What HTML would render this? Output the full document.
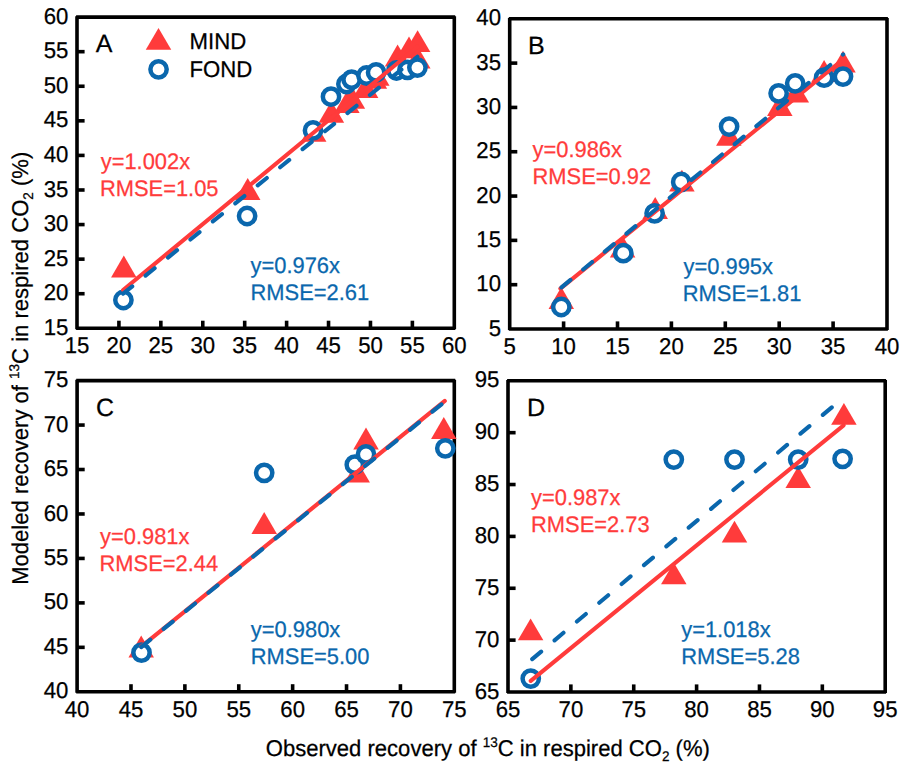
<!DOCTYPE html><html><head><meta charset="utf-8"><style>html,body{margin:0;padding:0;background:#fff;}svg{display:block;}</style></head><body>
<svg width="901" height="766" viewBox="0 0 901 766">
<rect width="901" height="766" fill="#fff"/>
<g font-family='"Liberation Sans", sans-serif' font-size="22.8" text-rendering="geometricPrecision" stroke-width="0.25">
<path d="M76.10,17.10H455.20M454.30,16.20V329.20M455.20,328.30H76.10M77.00,329.20V16.20" fill="none" stroke="#000" stroke-width="3.6"/>
<text transform="translate(77.00,353.40) scale(0.973,1)" text-anchor="middle" stroke="#000">15</text>
<line x1="118.92" y1="328.3" x2="118.92" y2="320.70" stroke="#000" stroke-width="3.6"/>
<text transform="translate(118.92,353.40) scale(0.973,1)" text-anchor="middle" stroke="#000">20</text>
<line x1="160.84" y1="328.3" x2="160.84" y2="320.70" stroke="#000" stroke-width="3.6"/>
<text transform="translate(160.84,353.40) scale(0.973,1)" text-anchor="middle" stroke="#000">25</text>
<line x1="202.77" y1="328.3" x2="202.77" y2="320.70" stroke="#000" stroke-width="3.6"/>
<text transform="translate(202.77,353.40) scale(0.973,1)" text-anchor="middle" stroke="#000">30</text>
<line x1="244.69" y1="328.3" x2="244.69" y2="320.70" stroke="#000" stroke-width="3.6"/>
<text transform="translate(244.69,353.40) scale(0.973,1)" text-anchor="middle" stroke="#000">35</text>
<line x1="286.61" y1="328.3" x2="286.61" y2="320.70" stroke="#000" stroke-width="3.6"/>
<text transform="translate(286.61,353.40) scale(0.973,1)" text-anchor="middle" stroke="#000">40</text>
<line x1="328.53" y1="328.3" x2="328.53" y2="320.70" stroke="#000" stroke-width="3.6"/>
<text transform="translate(328.53,353.40) scale(0.973,1)" text-anchor="middle" stroke="#000">45</text>
<line x1="370.46" y1="328.3" x2="370.46" y2="320.70" stroke="#000" stroke-width="3.6"/>
<text transform="translate(370.46,353.40) scale(0.973,1)" text-anchor="middle" stroke="#000">50</text>
<line x1="412.38" y1="328.3" x2="412.38" y2="320.70" stroke="#000" stroke-width="3.6"/>
<text transform="translate(412.38,353.40) scale(0.973,1)" text-anchor="middle" stroke="#000">55</text>
<text transform="translate(454.30,353.40) scale(0.973,1)" text-anchor="middle" stroke="#000">60</text>
<text transform="translate(68.30,334.90) scale(0.973,1)" text-anchor="end" stroke="#000">15</text>
<line x1="77.0" y1="293.72" x2="84.60" y2="293.72" stroke="#000" stroke-width="3.6"/>
<text transform="translate(68.30,300.32) scale(0.973,1)" text-anchor="end" stroke="#000">20</text>
<line x1="77.0" y1="259.14" x2="84.60" y2="259.14" stroke="#000" stroke-width="3.6"/>
<text transform="translate(68.30,265.74) scale(0.973,1)" text-anchor="end" stroke="#000">25</text>
<line x1="77.0" y1="224.57" x2="84.60" y2="224.57" stroke="#000" stroke-width="3.6"/>
<text transform="translate(68.30,231.17) scale(0.973,1)" text-anchor="end" stroke="#000">30</text>
<line x1="77.0" y1="189.99" x2="84.60" y2="189.99" stroke="#000" stroke-width="3.6"/>
<text transform="translate(68.30,196.59) scale(0.973,1)" text-anchor="end" stroke="#000">35</text>
<line x1="77.0" y1="155.41" x2="84.60" y2="155.41" stroke="#000" stroke-width="3.6"/>
<text transform="translate(68.30,162.01) scale(0.973,1)" text-anchor="end" stroke="#000">40</text>
<line x1="77.0" y1="120.83" x2="84.60" y2="120.83" stroke="#000" stroke-width="3.6"/>
<text transform="translate(68.30,127.43) scale(0.973,1)" text-anchor="end" stroke="#000">45</text>
<line x1="77.0" y1="86.26" x2="84.60" y2="86.26" stroke="#000" stroke-width="3.6"/>
<text transform="translate(68.30,92.86) scale(0.973,1)" text-anchor="end" stroke="#000">50</text>
<line x1="77.0" y1="51.68" x2="84.60" y2="51.68" stroke="#000" stroke-width="3.6"/>
<text transform="translate(68.30,58.28) scale(0.973,1)" text-anchor="end" stroke="#000">55</text>
<text transform="translate(68.30,23.70) scale(0.973,1)" text-anchor="end" stroke="#000">60</text>
<text x="95.7" y="52.4" font-size="25" stroke="#000">A</text>
<polygon points="123.80,255.60 136.55,277.40 111.05,277.40" fill="#FF3B3B"/>
<polygon points="247.70,178.10 260.45,199.90 234.95,199.90" fill="#FF3B3B"/>
<polygon points="313.70,120.00 326.45,141.80 300.95,141.80" fill="#FF3B3B"/>
<polygon points="331.40,101.00 344.15,122.80 318.65,122.80" fill="#FF3B3B"/>
<polygon points="346.90,91.30 359.65,113.10 334.15,113.10" fill="#FF3B3B"/>
<polygon points="352.40,87.00 365.15,108.80 339.65,108.80" fill="#FF3B3B"/>
<polygon points="365.60,76.10 378.35,97.90 352.85,97.90" fill="#FF3B3B"/>
<polygon points="374.40,66.90 387.15,88.70 361.65,88.70" fill="#FF3B3B"/>
<polygon points="376.80,63.90 389.55,85.70 364.05,85.70" fill="#FF3B3B"/>
<polygon points="397.60,44.60 410.35,66.40 384.85,66.40" fill="#FF3B3B"/>
<polygon points="409.00,36.40 421.75,58.20 396.25,58.20" fill="#FF3B3B"/>
<polygon points="417.60,30.20 430.35,52.00 404.85,52.00" fill="#FF3B3B"/>
<polygon points="417.80,46.70 430.55,68.50 405.05,68.50" fill="#FF3B3B"/>
<circle cx="123.40" cy="300.00" r="8.15" fill="#fff" stroke="#0A67AD" stroke-width="4.5"/>
<circle cx="247.10" cy="216.00" r="8.15" fill="#fff" stroke="#0A67AD" stroke-width="4.5"/>
<circle cx="313.00" cy="130.40" r="8.15" fill="#fff" stroke="#0A67AD" stroke-width="4.5"/>
<circle cx="331.00" cy="96.70" r="8.15" fill="#fff" stroke="#0A67AD" stroke-width="4.5"/>
<circle cx="346.40" cy="84.00" r="8.15" fill="#fff" stroke="#0A67AD" stroke-width="4.5"/>
<circle cx="351.60" cy="79.60" r="8.15" fill="#fff" stroke="#0A67AD" stroke-width="4.5"/>
<circle cx="366.50" cy="75.50" r="8.15" fill="#fff" stroke="#0A67AD" stroke-width="4.5"/>
<circle cx="376.10" cy="72.40" r="8.15" fill="#fff" stroke="#0A67AD" stroke-width="4.5"/>
<circle cx="396.50" cy="70.50" r="8.15" fill="#fff" stroke="#0A67AD" stroke-width="4.5"/>
<circle cx="407.50" cy="69.80" r="8.15" fill="#fff" stroke="#0A67AD" stroke-width="4.5"/>
<circle cx="417.40" cy="67.60" r="8.15" fill="#fff" stroke="#0A67AD" stroke-width="4.5"/>
<line x1="123.11" y1="289.98" x2="417.41" y2="46.76" stroke="#FF3B3B" stroke-width="4.1" stroke-linecap="round"/>
<line x1="123.11" y1="293.67" x2="417.41" y2="56.76" stroke="#0A67AD" stroke-width="4.1" stroke-linecap="round" stroke-dasharray="11.7 17.1" stroke-dashoffset="0"/>
<text transform="translate(100.70,169.10) scale(0.973,1)" fill="#FF3B3B" stroke="#FF3B3B" font-size="22.5">y=1.002x</text>
<text transform="translate(99.90,196.30) scale(0.973,1)" fill="#FF3B3B" stroke="#FF3B3B" font-size="22.5">RMSE=1.05</text>
<text transform="translate(250.50,273.40) scale(0.973,1)" fill="#0A67AD" stroke="#0A67AD" font-size="22.5">y=0.976x</text>
<text transform="translate(250.50,300.40) scale(0.973,1)" fill="#0A67AD" stroke="#0A67AD" font-size="22.5">RMSE=2.61</text>
<path d="M508.80,18.80H887.90M887.00,17.90V329.90M887.90,329.00H508.80M509.70,329.90V17.90" fill="none" stroke="#000" stroke-width="3.6"/>
<text transform="translate(509.70,354.10) scale(0.973,1)" text-anchor="middle" stroke="#000">5</text>
<line x1="563.60" y1="329.0" x2="563.60" y2="321.40" stroke="#000" stroke-width="3.6"/>
<text transform="translate(563.60,354.10) scale(0.973,1)" text-anchor="middle" stroke="#000">10</text>
<line x1="617.50" y1="329.0" x2="617.50" y2="321.40" stroke="#000" stroke-width="3.6"/>
<text transform="translate(617.50,354.10) scale(0.973,1)" text-anchor="middle" stroke="#000">15</text>
<line x1="671.40" y1="329.0" x2="671.40" y2="321.40" stroke="#000" stroke-width="3.6"/>
<text transform="translate(671.40,354.10) scale(0.973,1)" text-anchor="middle" stroke="#000">20</text>
<line x1="725.30" y1="329.0" x2="725.30" y2="321.40" stroke="#000" stroke-width="3.6"/>
<text transform="translate(725.30,354.10) scale(0.973,1)" text-anchor="middle" stroke="#000">25</text>
<line x1="779.20" y1="329.0" x2="779.20" y2="321.40" stroke="#000" stroke-width="3.6"/>
<text transform="translate(779.20,354.10) scale(0.973,1)" text-anchor="middle" stroke="#000">30</text>
<line x1="833.10" y1="329.0" x2="833.10" y2="321.40" stroke="#000" stroke-width="3.6"/>
<text transform="translate(833.10,354.10) scale(0.973,1)" text-anchor="middle" stroke="#000">35</text>
<text transform="translate(887.00,354.10) scale(0.973,1)" text-anchor="middle" stroke="#000">40</text>
<text transform="translate(501.00,335.60) scale(0.973,1)" text-anchor="end" stroke="#000">5</text>
<line x1="509.7" y1="284.69" x2="517.30" y2="284.69" stroke="#000" stroke-width="3.6"/>
<text transform="translate(501.00,291.29) scale(0.973,1)" text-anchor="end" stroke="#000">10</text>
<line x1="509.7" y1="240.37" x2="517.30" y2="240.37" stroke="#000" stroke-width="3.6"/>
<text transform="translate(501.00,246.97) scale(0.973,1)" text-anchor="end" stroke="#000">15</text>
<line x1="509.7" y1="196.06" x2="517.30" y2="196.06" stroke="#000" stroke-width="3.6"/>
<text transform="translate(501.00,202.66) scale(0.973,1)" text-anchor="end" stroke="#000">20</text>
<line x1="509.7" y1="151.74" x2="517.30" y2="151.74" stroke="#000" stroke-width="3.6"/>
<text transform="translate(501.00,158.34) scale(0.973,1)" text-anchor="end" stroke="#000">25</text>
<line x1="509.7" y1="107.43" x2="517.30" y2="107.43" stroke="#000" stroke-width="3.6"/>
<text transform="translate(501.00,114.03) scale(0.973,1)" text-anchor="end" stroke="#000">30</text>
<line x1="509.7" y1="63.11" x2="517.30" y2="63.11" stroke="#000" stroke-width="3.6"/>
<text transform="translate(501.00,69.71) scale(0.973,1)" text-anchor="end" stroke="#000">35</text>
<text transform="translate(501.00,25.40) scale(0.973,1)" text-anchor="end" stroke="#000">40</text>
<text x="528" y="54" font-size="25" stroke="#000">B</text>
<polygon points="561.30,287.10 574.05,308.90 548.55,308.90" fill="#FF3B3B"/>
<polygon points="622.60,235.70 635.35,257.50 609.85,257.50" fill="#FF3B3B"/>
<polygon points="655.20,197.10 667.95,218.90 642.45,218.90" fill="#FF3B3B"/>
<polygon points="681.90,169.70 694.65,191.50 669.15,191.50" fill="#FF3B3B"/>
<polygon points="728.80,124.00 741.55,145.80 716.05,145.80" fill="#FF3B3B"/>
<polygon points="779.80,94.10 792.55,115.90 767.05,115.90" fill="#FF3B3B"/>
<polygon points="796.30,80.80 809.05,102.60 783.55,102.60" fill="#FF3B3B"/>
<polygon points="824.10,60.10 836.85,81.90 811.35,81.90" fill="#FF3B3B"/>
<polygon points="843.00,50.70 855.75,72.50 830.25,72.50" fill="#FF3B3B"/>
<circle cx="561.30" cy="307.00" r="8.15" fill="#fff" stroke="#0A67AD" stroke-width="4.5"/>
<circle cx="623.30" cy="253.20" r="8.15" fill="#fff" stroke="#0A67AD" stroke-width="4.5"/>
<circle cx="654.60" cy="213.30" r="8.15" fill="#fff" stroke="#0A67AD" stroke-width="4.5"/>
<circle cx="681.20" cy="182.00" r="8.15" fill="#fff" stroke="#0A67AD" stroke-width="4.5"/>
<circle cx="729.10" cy="126.60" r="8.15" fill="#fff" stroke="#0A67AD" stroke-width="4.5"/>
<circle cx="778.60" cy="93.30" r="8.15" fill="#fff" stroke="#0A67AD" stroke-width="4.5"/>
<circle cx="795.20" cy="83.30" r="8.15" fill="#fff" stroke="#0A67AD" stroke-width="4.5"/>
<circle cx="824.10" cy="77.70" r="8.15" fill="#fff" stroke="#0A67AD" stroke-width="4.5"/>
<circle cx="843.00" cy="76.60" r="8.15" fill="#fff" stroke="#0A67AD" stroke-width="4.5"/>
<line x1="560.37" y1="288.55" x2="843.23" y2="59.24" stroke="#FF3B3B" stroke-width="4.1" stroke-linecap="round"/>
<line x1="561.50" y1="287.40" x2="843.20" y2="54.30" stroke="#0A67AD" stroke-width="4.1" stroke-linecap="round" stroke-dasharray="11.7 16.4" stroke-dashoffset="0"/>
<text transform="translate(532.50,156.70) scale(0.973,1)" fill="#FF3B3B" stroke="#FF3B3B" font-size="22.5">y=0.986x</text>
<text transform="translate(532.50,183.60) scale(0.973,1)" fill="#FF3B3B" stroke="#FF3B3B" font-size="22.5">RMSE=0.92</text>
<text transform="translate(683.50,274.00) scale(0.973,1)" fill="#0A67AD" stroke="#0A67AD" font-size="22.5">y=0.995x</text>
<text transform="translate(682.80,301.30) scale(0.973,1)" fill="#0A67AD" stroke="#0A67AD" font-size="22.5">RMSE=1.81</text>
<path d="M76.20,380.60H455.20M454.30,379.70V692.70M455.20,691.80H76.20M77.10,692.70V379.70" fill="none" stroke="#000" stroke-width="3.6"/>
<text transform="translate(77.10,716.90) scale(0.973,1)" text-anchor="middle" stroke="#000">40</text>
<line x1="130.99" y1="691.8" x2="130.99" y2="684.20" stroke="#000" stroke-width="3.6"/>
<text transform="translate(130.99,716.90) scale(0.973,1)" text-anchor="middle" stroke="#000">45</text>
<line x1="184.87" y1="691.8" x2="184.87" y2="684.20" stroke="#000" stroke-width="3.6"/>
<text transform="translate(184.87,716.90) scale(0.973,1)" text-anchor="middle" stroke="#000">50</text>
<line x1="238.76" y1="691.8" x2="238.76" y2="684.20" stroke="#000" stroke-width="3.6"/>
<text transform="translate(238.76,716.90) scale(0.973,1)" text-anchor="middle" stroke="#000">55</text>
<line x1="292.64" y1="691.8" x2="292.64" y2="684.20" stroke="#000" stroke-width="3.6"/>
<text transform="translate(292.64,716.90) scale(0.973,1)" text-anchor="middle" stroke="#000">60</text>
<line x1="346.53" y1="691.8" x2="346.53" y2="684.20" stroke="#000" stroke-width="3.6"/>
<text transform="translate(346.53,716.90) scale(0.973,1)" text-anchor="middle" stroke="#000">65</text>
<line x1="400.41" y1="691.8" x2="400.41" y2="684.20" stroke="#000" stroke-width="3.6"/>
<text transform="translate(400.41,716.90) scale(0.973,1)" text-anchor="middle" stroke="#000">70</text>
<text transform="translate(454.30,716.90) scale(0.973,1)" text-anchor="middle" stroke="#000">75</text>
<text transform="translate(68.40,698.40) scale(0.973,1)" text-anchor="end" stroke="#000">40</text>
<line x1="77.1" y1="647.34" x2="84.70" y2="647.34" stroke="#000" stroke-width="3.6"/>
<text transform="translate(68.40,653.94) scale(0.973,1)" text-anchor="end" stroke="#000">45</text>
<line x1="77.1" y1="602.89" x2="84.70" y2="602.89" stroke="#000" stroke-width="3.6"/>
<text transform="translate(68.40,609.49) scale(0.973,1)" text-anchor="end" stroke="#000">50</text>
<line x1="77.1" y1="558.43" x2="84.70" y2="558.43" stroke="#000" stroke-width="3.6"/>
<text transform="translate(68.40,565.03) scale(0.973,1)" text-anchor="end" stroke="#000">55</text>
<line x1="77.1" y1="513.97" x2="84.70" y2="513.97" stroke="#000" stroke-width="3.6"/>
<text transform="translate(68.40,520.57) scale(0.973,1)" text-anchor="end" stroke="#000">60</text>
<line x1="77.1" y1="469.51" x2="84.70" y2="469.51" stroke="#000" stroke-width="3.6"/>
<text transform="translate(68.40,476.11) scale(0.973,1)" text-anchor="end" stroke="#000">65</text>
<line x1="77.1" y1="425.06" x2="84.70" y2="425.06" stroke="#000" stroke-width="3.6"/>
<text transform="translate(68.40,431.66) scale(0.973,1)" text-anchor="end" stroke="#000">70</text>
<text transform="translate(68.40,387.20) scale(0.973,1)" text-anchor="end" stroke="#000">75</text>
<text x="96" y="416" font-size="25" stroke="#000">C</text>
<polygon points="141.20,635.60 153.95,657.40 128.45,657.40" fill="#FF3B3B"/>
<polygon points="264.20,512.10 276.95,533.90 251.45,533.90" fill="#FF3B3B"/>
<polygon points="357.20,460.80 369.95,482.60 344.45,482.60" fill="#FF3B3B"/>
<polygon points="366.00,427.60 378.75,449.40 353.25,449.40" fill="#FF3B3B"/>
<polygon points="443.80,417.10 456.55,438.90 431.05,438.90" fill="#FF3B3B"/>
<circle cx="141.50" cy="652.60" r="8.15" fill="#fff" stroke="#0A67AD" stroke-width="4.5"/>
<circle cx="264.20" cy="472.80" r="8.15" fill="#fff" stroke="#0A67AD" stroke-width="4.5"/>
<circle cx="354.80" cy="464.70" r="8.15" fill="#fff" stroke="#0A67AD" stroke-width="4.5"/>
<circle cx="366.00" cy="454.30" r="8.15" fill="#fff" stroke="#0A67AD" stroke-width="4.5"/>
<circle cx="445.30" cy="448.30" r="8.15" fill="#fff" stroke="#0A67AD" stroke-width="4.5"/>
<line x1="141.22" y1="646.66" x2="444.82" y2="400.95" stroke="#FF3B3B" stroke-width="4.1" stroke-linecap="round"/>
<line x1="141.22" y1="647.07" x2="444.82" y2="401.61" stroke="#0A67AD" stroke-width="4.1" stroke-linecap="round" stroke-dasharray="11.7 17.1" stroke-dashoffset="0"/>
<text transform="translate(100.00,543.50) scale(0.973,1)" fill="#FF3B3B" stroke="#FF3B3B" font-size="22.5">y=0.981x</text>
<text transform="translate(99.50,570.50) scale(0.973,1)" fill="#FF3B3B" stroke="#FF3B3B" font-size="22.5">RMSE=2.44</text>
<text transform="translate(250.80,636.80) scale(0.973,1)" fill="#0A67AD" stroke="#0A67AD" font-size="22.5">y=0.980x</text>
<text transform="translate(250.80,664.00) scale(0.973,1)" fill="#0A67AD" stroke="#0A67AD" font-size="22.5">RMSE=5.00</text>
<path d="M507.10,380.80H886.10M885.20,379.90V692.90M886.10,692.00H507.10M508.00,692.90V379.90" fill="none" stroke="#000" stroke-width="3.6"/>
<text transform="translate(508.00,717.10) scale(0.973,1)" text-anchor="middle" stroke="#000">65</text>
<line x1="570.87" y1="692.0" x2="570.87" y2="684.40" stroke="#000" stroke-width="3.6"/>
<text transform="translate(570.87,717.10) scale(0.973,1)" text-anchor="middle" stroke="#000">70</text>
<line x1="633.73" y1="692.0" x2="633.73" y2="684.40" stroke="#000" stroke-width="3.6"/>
<text transform="translate(633.73,717.10) scale(0.973,1)" text-anchor="middle" stroke="#000">75</text>
<line x1="696.60" y1="692.0" x2="696.60" y2="684.40" stroke="#000" stroke-width="3.6"/>
<text transform="translate(696.60,717.10) scale(0.973,1)" text-anchor="middle" stroke="#000">80</text>
<line x1="759.47" y1="692.0" x2="759.47" y2="684.40" stroke="#000" stroke-width="3.6"/>
<text transform="translate(759.47,717.10) scale(0.973,1)" text-anchor="middle" stroke="#000">85</text>
<line x1="822.33" y1="692.0" x2="822.33" y2="684.40" stroke="#000" stroke-width="3.6"/>
<text transform="translate(822.33,717.10) scale(0.973,1)" text-anchor="middle" stroke="#000">90</text>
<text transform="translate(885.20,717.10) scale(0.973,1)" text-anchor="middle" stroke="#000">95</text>
<text transform="translate(499.30,698.60) scale(0.973,1)" text-anchor="end" stroke="#000">65</text>
<line x1="508.0" y1="640.13" x2="515.60" y2="640.13" stroke="#000" stroke-width="3.6"/>
<text transform="translate(499.30,646.73) scale(0.973,1)" text-anchor="end" stroke="#000">70</text>
<line x1="508.0" y1="588.27" x2="515.60" y2="588.27" stroke="#000" stroke-width="3.6"/>
<text transform="translate(499.30,594.87) scale(0.973,1)" text-anchor="end" stroke="#000">75</text>
<line x1="508.0" y1="536.40" x2="515.60" y2="536.40" stroke="#000" stroke-width="3.6"/>
<text transform="translate(499.30,543.00) scale(0.973,1)" text-anchor="end" stroke="#000">80</text>
<line x1="508.0" y1="484.53" x2="515.60" y2="484.53" stroke="#000" stroke-width="3.6"/>
<text transform="translate(499.30,491.13) scale(0.973,1)" text-anchor="end" stroke="#000">85</text>
<line x1="508.0" y1="432.67" x2="515.60" y2="432.67" stroke="#000" stroke-width="3.6"/>
<text transform="translate(499.30,439.27) scale(0.973,1)" text-anchor="end" stroke="#000">90</text>
<text transform="translate(499.30,387.40) scale(0.973,1)" text-anchor="end" stroke="#000">95</text>
<text x="527" y="416" font-size="25" stroke="#000">D</text>
<polygon points="530.60,618.40 543.35,640.20 517.85,640.20" fill="#FF3B3B"/>
<polygon points="673.80,562.50 686.55,584.30 661.05,584.30" fill="#FF3B3B"/>
<polygon points="734.50,520.80 747.25,542.60 721.75,542.60" fill="#FF3B3B"/>
<polygon points="798.20,466.30 810.95,488.10 785.45,488.10" fill="#FF3B3B"/>
<polygon points="843.90,402.90 856.65,424.70 831.15,424.70" fill="#FF3B3B"/>
<circle cx="530.75" cy="678.60" r="8.15" fill="#fff" stroke="#0A67AD" stroke-width="4.5"/>
<circle cx="673.80" cy="459.60" r="8.15" fill="#fff" stroke="#0A67AD" stroke-width="4.5"/>
<circle cx="734.50" cy="459.60" r="8.15" fill="#fff" stroke="#0A67AD" stroke-width="4.5"/>
<circle cx="798.20" cy="459.60" r="8.15" fill="#fff" stroke="#0A67AD" stroke-width="4.5"/>
<circle cx="842.60" cy="458.80" r="8.15" fill="#fff" stroke="#0A67AD" stroke-width="4.5"/>
<line x1="530.75" y1="680.90" x2="843.60" y2="425.30" stroke="#FF3B3B" stroke-width="4.1" stroke-linecap="round"/>
<line x1="532.20" y1="659.10" x2="841.60" y2="399.10" stroke="#0A67AD" stroke-width="4.1" stroke-linecap="round" stroke-dasharray="11.7 17.5" stroke-dashoffset="0"/>
<text transform="translate(531.00,505.00) scale(0.973,1)" fill="#FF3B3B" stroke="#FF3B3B" font-size="22.5">y=0.987x</text>
<text transform="translate(531.00,532.00) scale(0.973,1)" fill="#FF3B3B" stroke="#FF3B3B" font-size="22.5">RMSE=2.73</text>
<text transform="translate(681.20,636.80) scale(0.973,1)" fill="#0A67AD" stroke="#0A67AD" font-size="22.5">y=1.018x</text>
<text transform="translate(681.20,663.80) scale(0.973,1)" fill="#0A67AD" stroke="#0A67AD" font-size="22.5">RMSE=5.28</text>
<polygon points="158.5,28.0 171.25,49.8 145.75,49.8" fill="#FF3B3B"/>
<circle cx="158.55" cy="69.3" r="8.15" fill="#fff" stroke="#0A67AD" stroke-width="4.5"/>
<text transform="translate(189.50,49.30) scale(0.973,1)" stroke="#000">MIND</text>
<text transform="translate(189.50,76.50) scale(0.973,1)" stroke="#000">FOND</text>
<text transform="translate(265.8,756) scale(0.967,1)" stroke="#000">Observed recovery of <tspan font-size="14" dy="-9">13</tspan><tspan dy="9">C in respired CO</tspan><tspan font-size="14" dy="5">2</tspan><tspan dy="-5"> (%)</tspan></text>
<text transform="translate(28,584.8) rotate(-90) scale(0.967,1)" stroke="#000">Modeled recovery of <tspan font-size="14" dy="-9">13</tspan><tspan dy="9">C in respired CO</tspan><tspan font-size="14" dy="5">2</tspan><tspan dy="-5"> (%)</tspan></text>
</g></svg></body></html>
